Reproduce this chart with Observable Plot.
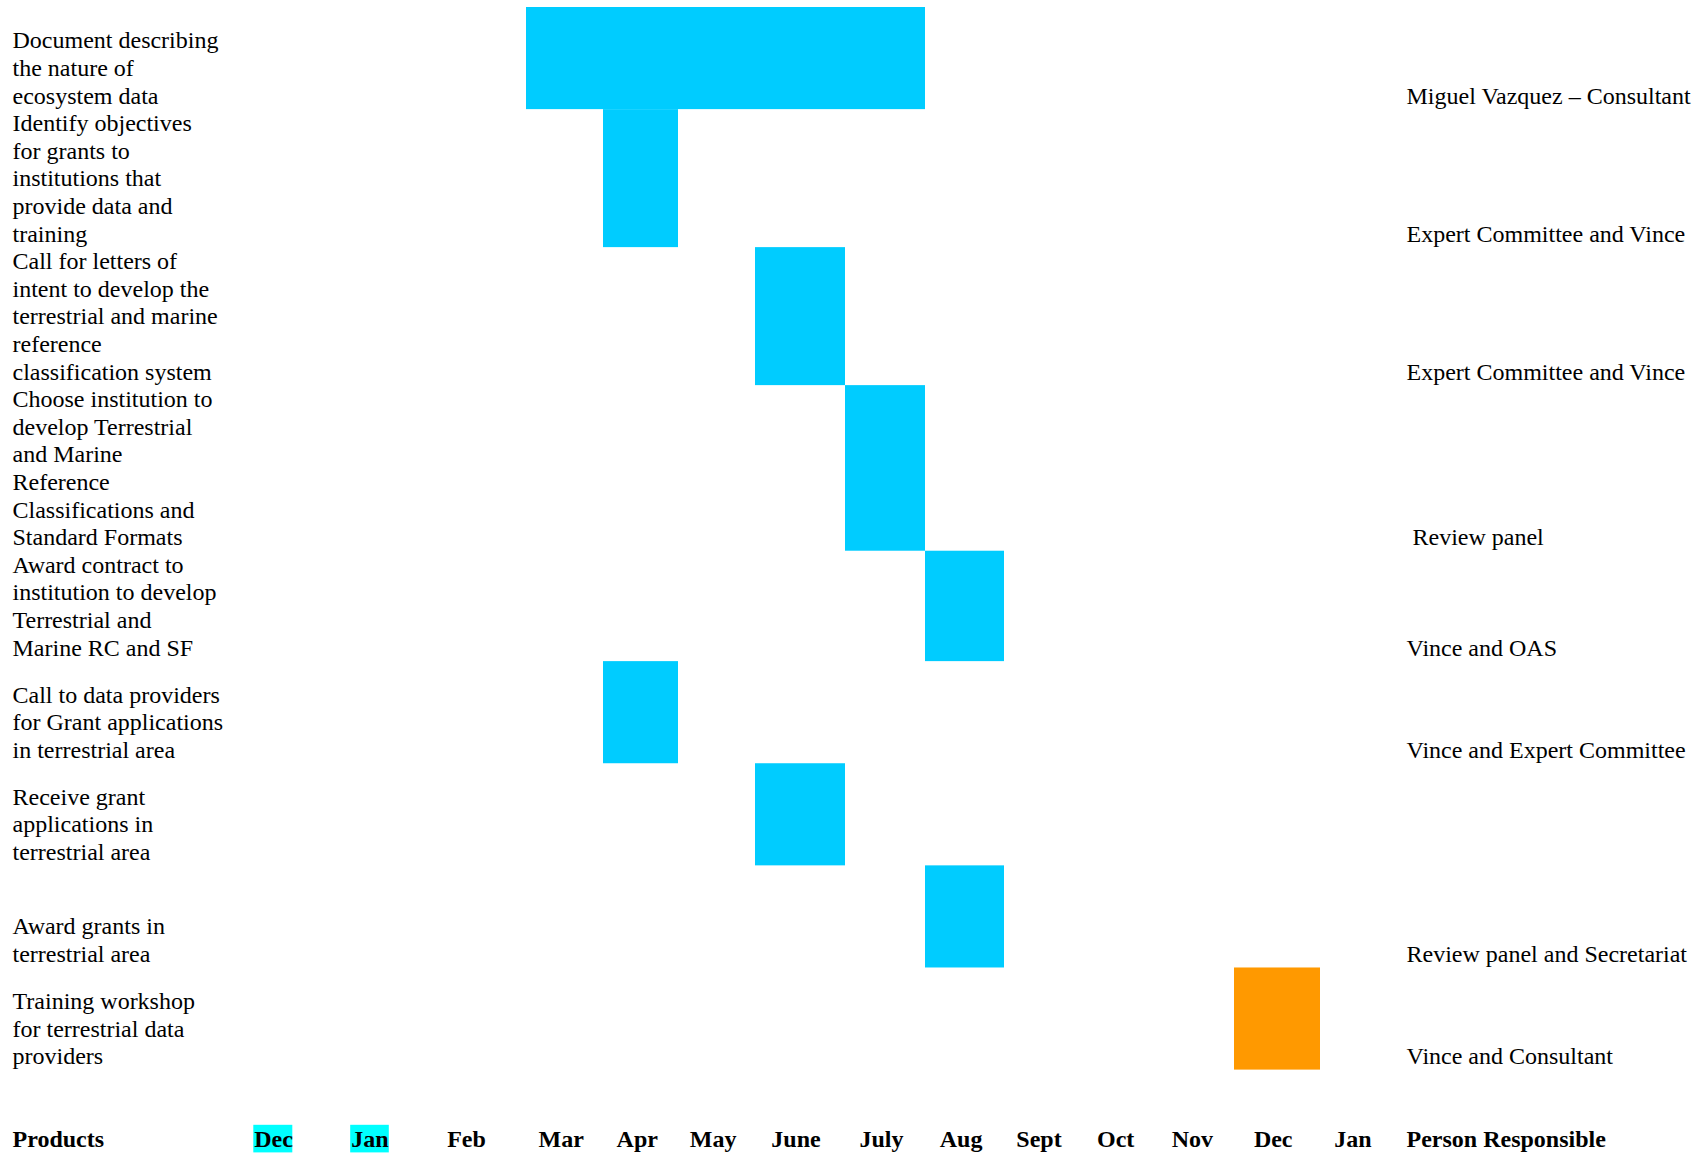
<!DOCTYPE html>
<html>
<head>
<meta charset="utf-8">
<script src="https://cdn.jsdelivr.net/npm/d3@7"></script>
<script src="https://cdn.jsdelivr.net/npm/@observablehq/plot@0.6"></script>
<style>
  html, body { margin: 0; padding: 0; background: #fff; }
</style>
</head>
<body>
<div id="chart"></div>
<script>
// ---------------- data ----------------
const months = ["Dec", "Jan", "Feb", "Mar", "Apr", "May", "June", "July", "Aug", "Sept", "Oct", "Nov", "Dec", "Jan"];
const highlightedMonths = [0, 1]; // indices of month labels shown on a cyan background
const headers = ["Products", "Person Responsible"];

const products = [
  "Document describing\nthe nature of\necosystem data",
  "Identify objectives\nfor grants to\ninstitutions that\nprovide data and\ntraining",
  "Call for letters of\nintent to develop the\nterrestrial and marine\nreference\nclassification system",
  "Choose institution to\ndevelop Terrestrial\nand Marine\nReference\nClassifications and\nStandard Formats",
  "Award contract to\ninstitution to develop\nTerrestrial and\nMarine RC and SF",
  "Call to data providers\nfor Grant applications\nin terrestrial area",
  "Receive grant\napplications in\nterrestrial area",
  "Award grants in\nterrestrial area",
  "Training workshop\nfor terrestrial data\nproviders"
];
const persons = [
  "Miguel Vazquez \u2013 Consultant",
  "Expert Committee and Vince",
  "Expert Committee and Vince",
  "\u00a0Review panel",
  "Vince and OAS",
  "Vince and Expert Committee",
  "",
  "Review panel and Secretariat",
  "Vince and Consultant"
];
// month indices (into `months`) of first and last month of each task
const startMonth = [3, 4, 6, 7, 8, 4, 6, 8, 12];
const endMonth   = [7, 4, 6, 7, 8, 4, 6, 8, 12];
const kind = ["Preparation", "Preparation", "Preparation", "Preparation", "Preparation",
              "Preparation", "Preparation", "Preparation", "Training"];

// ---------------- layout helpers ----------------
const FONT = "Liberation Serif, Times New Roman, serif";
const FS = 24;              // font size px
const LH = 1.15;            // line height (em)
const LINE = FS * LH;       // px per text line (= one y unit)
const MIN_LINES = 3.7;      // minimum row height in lines
const TOP = 7;
const LABEL_POS = 0.45;     // month label position within its column

const rowUnits = products.map(p => Math.max(MIN_LINES, p.split("\n").length));
let acc = 0;
const tasks = products.map((p, i) => {
  const y1 = acc; acc += rowUnits[i];
  return {product: p, person: persons[i], start: startMonth[i], end: endMonth[i] + 1, y1, y2: acc, kind: kind[i]};
});
const total = acc;
const LABEL_ROW = total + 2.5;
const COL_PRODUCTS = -2.2, COL_PERSON = 14.17;
const monthData = months.map((m, i) => ({m, i}));

// column boundaries of the timetable are not uniform: piecewise linear month scale
const xDomain = [COL_PRODUCTS, LABEL_POS, 2 + LABEL_POS, 3, 4, 5, 6, 7, 8, 9, 12, 13, 14, COL_PERSON];
const xRange  = [12, 273, 466, 526, 603, 678, 755, 845, 925, 1004, 1234, 1320, 1392, 1406];

const chart = Plot.plot({
  width: 1698,
  height: 1154,
  marginLeft: 0, marginRight: 0, marginTop: 0, marginBottom: 0,
  style: {fontFamily: FONT, fontSize: FS + "px", background: "#fff", color: "#000"},
  x: {type: "linear", axis: null, domain: xDomain, range: xRange},
  y: {type: "linear", axis: null, domain: [0, total], range: [TOP, TOP + total * LINE]},
  color: {domain: ["Preparation", "Training"], range: ["#00CCFF", "#FF9900"]},
  marks: [
    Plot.rect(tasks, {x1: "start", x2: "end", y1: "y1", y2: "y2", fill: "kind"}),
    Plot.text(tasks, {x: () => COL_PRODUCTS, y: "y2", text: "product", textAnchor: "start",
      lineAnchor: "bottom", lineHeight: LH, dy: -6, fontSize: FS, fill: "#000"}),
    Plot.text(tasks.filter(d => d.person), {x: () => COL_PERSON, y: "y2", text: "person", textAnchor: "start",
      lineAnchor: "bottom", dy: -6, fontSize: FS, fill: "#000"}),
    Plot.rect(highlightedMonths, {x1: i => i + LABEL_POS - 0.2, x2: i => i + LABEL_POS + 0.2,
      y1: () => LABEL_ROW - 0.5, y2: () => LABEL_ROW + 0.5, fill: "#00FFFF"}),
    Plot.text(monthData, {x: d => d.i + LABEL_POS, y: () => LABEL_ROW, text: "m",
      fontWeight: "bold", fontSize: FS, fill: "#000"}),
    Plot.text(headers, {x: (d, i) => i === 0 ? COL_PRODUCTS : COL_PERSON, y: () => LABEL_ROW, text: d => d,
      textAnchor: "start", fontWeight: "bold", fontSize: FS, fill: "#000"})
  ]
});
document.getElementById("chart").appendChild(chart);
</script>
</body>
</html>
